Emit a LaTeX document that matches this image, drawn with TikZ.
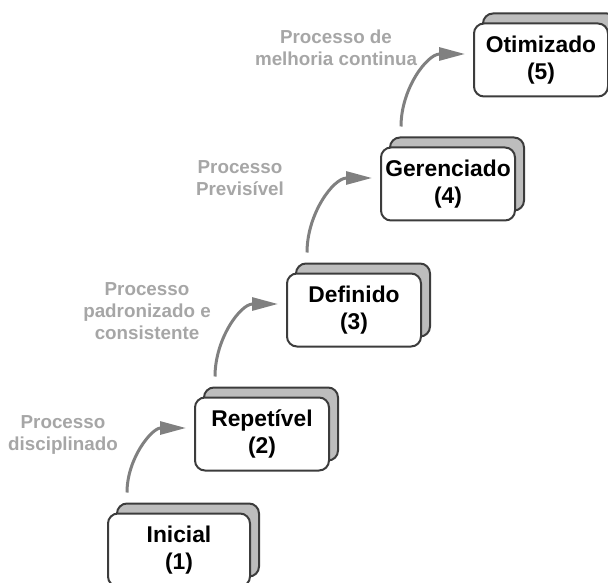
\documentclass[tikz,border=0pt]{standalone}
\usepackage{fontspec}
\setmainfont{Liberation Sans}
\usetikzlibrary{arrows.meta,shadows}

\definecolor{boxline}{HTML}{3C3C3C}
\definecolor{boxback}{HTML}{BDBDBD}
\definecolor{arrowgray}{HTML}{808080}
\definecolor{labelgray}{HTML}{A6A6A6}

\begin{document}
\begin{tikzpicture}[x=0.5pt,y=-0.5pt,
	level/.style={draw=boxline, line width=1pt, fill=white, rounded corners=5pt,
		minimum width=67pt, minimum height=36.5pt, align=center, inner sep=2pt,
		font=\fontsize{11.4}{13.5}\selectfont\bfseries,
		copy shadow={draw=boxline, fill=boxback, line width=1pt,
			shadow xshift=4.5pt, shadow yshift=5pt}},
	stepup/.style={draw=arrowgray, line width=1.5pt,
		-{Triangle[length=13pt,width=6.5pt]}, out=90, in=180},
	note/.style={text=labelgray, align=center,
		font=\fontsize{9.4}{11}\selectfont\bfseries}]

	\useasboundingbox (0,0) rectangle (608,582);

	\node[level, minimum width=71pt] (ini) at (179,550) {Inicial\\(1)};
	\node[level] (rep) at (262,434) {Repetível\\(2)};
	\node[level] (def) at (354,310) {Definido\\(3)};
	\node[level] (ger) at (448,184) {Gerenciado\\(4)};
	\node[level] (oti) at (541,60) {Otimizado\\(5)};

	\draw[stepup] ([xshift=10pt,yshift=10pt]ini.north west) to ([xshift=-4pt,yshift=3pt]rep.west);
	\draw[stepup] ([xshift=10.5pt,yshift=10pt]rep.north west) to ([xshift=-4pt,yshift=3pt]def.west);
	\draw[stepup] ([xshift=10.5pt,yshift=10pt]def.north west) to ([xshift=-4pt,yshift=3pt]ger.west);
	\draw[stepup] ([xshift=10.5pt,yshift=10pt]ger.north west) to ([xshift=-4pt,yshift=3pt]oti.west);

	\node[note] (disc) at (63,435) {Processo\\disciplinado};
	\node[note] (padr) at (147,311) {Processo\\padronizado e\\consistente};
	\node[note] (prev) at (240,178) {Processo\\Previsível};
	\node[note] (melh) at (336,48) {Processo de\\melhoria continua};

\end{tikzpicture}
\end{document}
